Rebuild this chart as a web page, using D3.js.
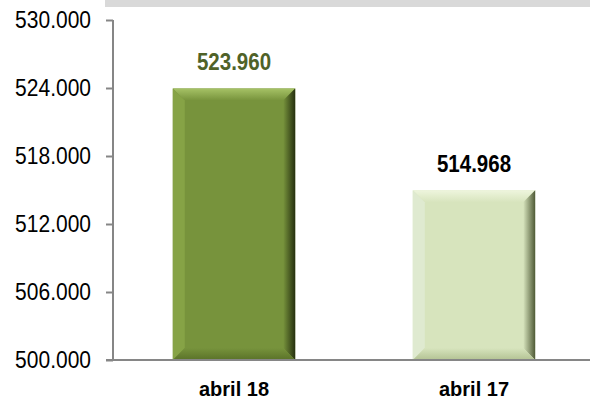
<!DOCTYPE html>
<html>
<head>
<meta charset="utf-8">
<script src="https://cdn.jsdelivr.net/npm/d3@7"></script>
<style>
  body { margin: 0; background: #fff; }
  text { font-family: Arial, "Liberation Sans", sans-serif; }
</style>
</head>
<body>
<div id="chart"></div>
<script>
var categories = ["abril 18", "abril 17"];
var values = [523960, 514968];
var yTicks = [500000, 506000, 512000, 518000, 524000, 530000];
var labelColors = ["#4f6228", "#000000"];
// main, top bevel, left bevel, right bevel (edge), bottom bevel
var barColors = [
    {main: "#77933c", top: "#a6c266", left: "#86a346", right: "#26300f", bottom: "#5a7229"},
    {main: "#d7e4bd", top: "#eef5dd", left: "#dfead0", right: "#4f5a36", bottom: "#b3c293"}
];

var width = 590, height = 401;
var fmt = d3.formatLocale({decimal: ",", thousands: ".", grouping: [3], currency: ["", ""]}).format(",.0f");

var svg = d3.select("#chart").append("svg")
    .attr("width", width)
    .attr("height", height);

var defs = svg.append("defs");

var yScale = d3.scaleLinear()
    .domain([500000, 530000])
    .range([360, 20]);

var xScale = d3.scaleBand()
    .domain(categories)
    .range([114, 594])
    .paddingInner(0.49)
    .paddingOuter(0.245);

// grey band at top
svg.append("rect")
    .attr("x", 105).attr("y", 0)
    .attr("width", width - 105).attr("height", 7)
    .style("fill", "#d9d9d9");

// gradients for the bevel sides
barColors.forEach(function(c, i){
    var gr = defs.append("linearGradient").attr("id", "gr" + i)
        .attr("x1", 0).attr("x2", 1).attr("y1", 0).attr("y2", 0);
    gr.append("stop").attr("offset", "0%").attr("stop-color", c.main);
    gr.append("stop").attr("offset", "100%").attr("stop-color", c.right);
    var gt = defs.append("linearGradient").attr("id", "gt" + i)
        .attr("x1", 0).attr("x2", 0).attr("y1", 0).attr("y2", 1);
    gt.append("stop").attr("offset", "0%").attr("stop-color", c.top);
    gt.append("stop").attr("offset", "100%").attr("stop-color", c.main);
    var gb = defs.append("linearGradient").attr("id", "gb" + i)
        .attr("x1", 0).attr("x2", 0).attr("y1", 0).attr("y2", 1);
    gb.append("stop").attr("offset", "0%").attr("stop-color", c.main);
    gb.append("stop").attr("offset", "100%").attr("stop-color", c.bottom);
});

var bev = 12;
var bars = svg.selectAll(".bar")
    .data(values).enter().append("g")
    .attr("class", "bar");

bars.each(function(d, i){
    var g = d3.select(this);
    var x0 = xScale(categories[i]);
    var x1 = x0 + xScale.bandwidth();
    var y0 = yScale(d);
    var y1 = yScale(500000);
    g.append("rect")
        .attr("x", x0).attr("y", y0)
        .attr("width", x1 - x0).attr("height", y1 - y0)
        .style("fill", barColors[i].main);
    // top
    g.append("polygon")
        .attr("points", [[x0, y0], [x1, y0], [x1 - bev, y0 + bev], [x0 + bev, y0 + bev]].join(" "))
        .style("fill", "url(#gt" + i + ")");
    // left
    g.append("polygon")
        .attr("points", [[x0, y0], [x0 + bev, y0 + bev], [x0 + bev, y1 - bev], [x0, y1]].join(" "))
        .style("fill", barColors[i].left);
    // right
    g.append("polygon")
        .attr("points", [[x1, y0], [x1, y1], [x1 - bev, y1 - bev], [x1 - bev, y0 + bev]].join(" "))
        .style("fill", "url(#gr" + i + ")");
    // bottom
    g.append("polygon")
        .attr("points", [[x0, y1], [x0 + bev, y1 - bev], [x1 - bev, y1 - bev], [x1, y1]].join(" "))
        .style("fill", "url(#gb" + i + ")");
});

// value labels (slightly stretched vertically, like the condensed original)
svg.selectAll(".val")
    .data(values).enter().append("text")
    .attr("class", "val")
    .attr("transform", function(d, i){
        var x = xScale(categories[i]) + xScale.bandwidth() / 2;
        return "translate(" + x + "," + (yScale(d) - 18) + ") scale(1,1.15)";
    })
    .attr("text-anchor", "middle")
    .style("font-size", "20.5px")
    .style("font-weight", "bold")
    .style("fill", function(d, i){ return labelColors[i]; })
    .text(function(d){ return fmt(d); });

// y axis
var yAxis = d3.axisLeft(yScale)
    .tickValues(yTicks)
    .tickSize(7)
    .tickPadding(15)
    .tickFormat(fmt);

var gy = svg.append("g")
    .attr("transform", "translate(113, 0)")
    .call(yAxis);
gy.select(".domain").attr("stroke", "#868686").attr("stroke-width", 2).attr("d", "M0,20V360");
gy.selectAll(".tick line").attr("stroke", "#868686").attr("stroke-width", 2);
gy.selectAll(".tick text")
    .style("font-size", "21px")
    .style("fill", "#000")
    .attr("dy", "0.33em")
    .attr("transform", "scale(1,1.1)");

// x axis
var xAxis = d3.axisBottom(xScale).tickSize(0).tickPadding(22);
var gx = svg.append("g")
    .attr("transform", "translate(0, 360)")
    .call(xAxis);
gx.select(".domain").attr("stroke", "#868686").attr("stroke-width", 2).attr("d", "M106,0H590");
gx.selectAll(".tick text")
    .style("font-size", "20px")
    .style("font-weight", "bold")
    .style("fill", "#000");
</script>
</body>
</html>
